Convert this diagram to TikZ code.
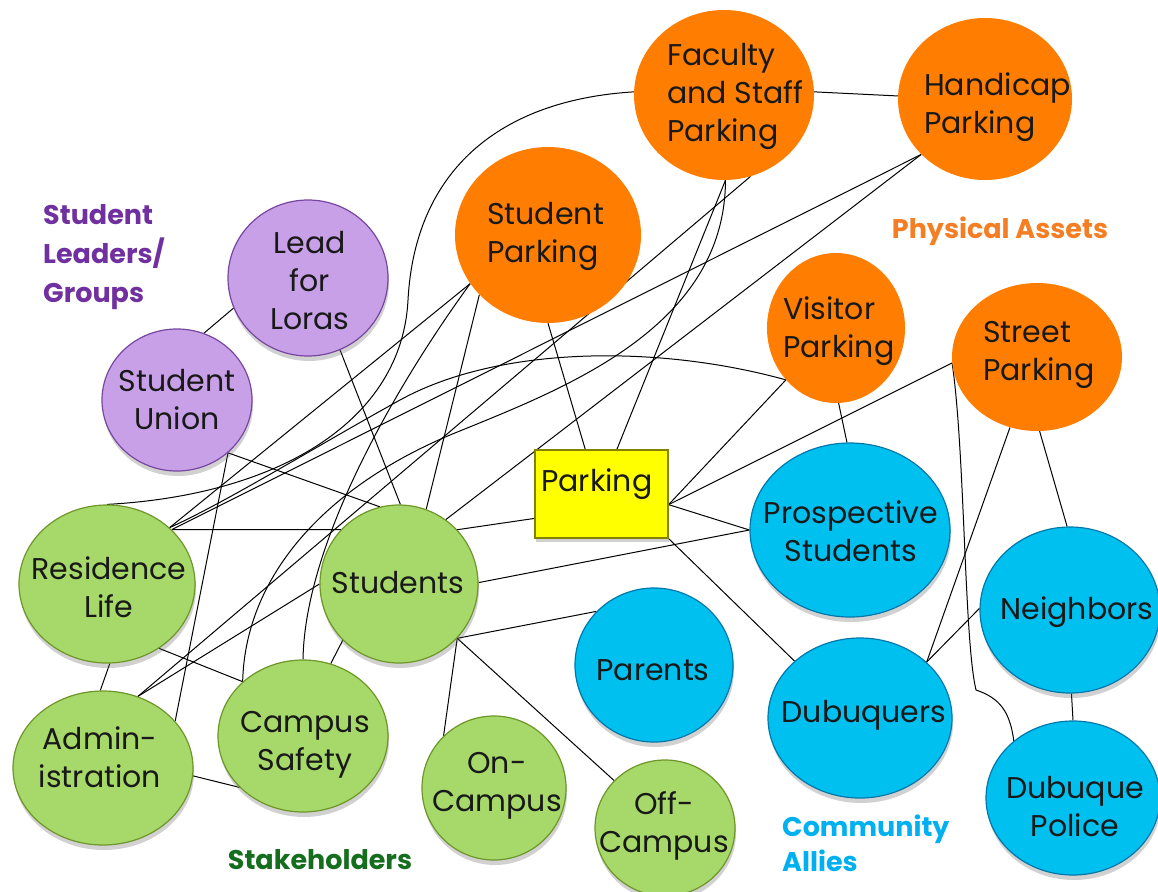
\documentclass[tikz,border=0pt]{standalone}
\usepackage{fontspec}
\setmainfont{Poppins}
\usetikzlibrary{shapes.geometric,backgrounds,shadows}
\definecolor{orng}{RGB}{255,125,0}
\definecolor{purp}{RGB}{200,160,232}
\definecolor{purpd}{RGB}{120,70,160}
\definecolor{grn}{RGB}{166,217,106}
\definecolor{grnd}{RGB}{110,150,40}
\definecolor{blu}{RGB}{0,192,240}
\definecolor{blud}{RGB}{0,120,170}
\definecolor{ylw}{RGB}{255,255,0}
\definecolor{ylwd}{RGB}{130,130,0}
\definecolor{lpurp}{RGB}{112,48,160}
\definecolor{lorng}{RGB}{245,125,35}
\definecolor{lgrn}{RGB}{20,110,30}
\definecolor{lblu}{RGB}{0,176,240}
\begin{document}
\begin{tikzpicture}[x=1pt,y=-1pt,
  bubble/.style={ellipse, inner sep=0pt, line width=1.2pt,
    drop shadow={shadow xshift=1pt, shadow yshift=-5pt, opacity=0.3, fill=black!60}},
  orangeb/.style={ellipse, inner sep=0pt, fill=orng},
  purpb/.style={bubble, fill=purp, draw=purpd},
  greenb/.style={bubble, fill=grn, draw=grnd},
  blueb/.style={bubble, fill=blu, draw=blud},
  txt/.style={font=\fontsize{30}{38}\selectfont, text=black!90, inner sep=0pt},
  lbl/.style={font=\fontsize{27}{39}\selectfont\bfseries, inner sep=0pt},
  conn/.style={line width=1pt, black}]
\useasboundingbox (0,0) rectangle (1158,891);
% physical assets
\node[orangeb, minimum width=180pt, minimum height=170pt] (F) at (724,95) {};
\node[txt, anchor=west, align=left] (Ft) at (667,96) {Faculty\\and Staff\\Parking};
\node[orangeb, minimum width=174pt, minimum height=162pt] (H) at (985,99) {};
\node[txt, anchor=west, align=left] (Ht) at (924,107) {Handicap\\Parking};
\node[orangeb, minimum width=186pt, minimum height=176pt] (SP) at (548,235) {};
\node[txt, anchor=west, align=left] (SPt) at (487,236) {Student\\Parking};
\node[orangeb, minimum width=138pt, minimum height=150pt] (V) at (836,328) {};
\node[txt, anchor=west, align=left] (Vt) at (783,331) {Visitor\\Parking};
\node[orangeb, minimum width=170pt, minimum height=148pt] (St) at (1037,357) {};
\node[txt, anchor=west, align=left] (Stt) at (983,355) {Street\\Parking};
% student groups
\node[purpb, minimum width=160pt, minimum height=156pt] (LL) at (308,278) {};
\node[txt, align=center] (LLt) at (310,281) {Lead\\for\\Loras};
\node[purpb, minimum width=150pt, minimum height=142pt] (SU) at (177,400) {};
\node[txt, align=center] (SUt) at (177,400) {Student\\Union};
% parking box
\node[rectangle, fill=ylw, draw=ylwd, line width=1.2pt, minimum width=133pt, minimum height=88pt,
  drop shadow={shadow xshift=1pt, shadow yshift=-4pt, opacity=0.3, fill=black!60}] (Pk) at (601.5,494) {};
\node[txt, anchor=west] (Pkt) at (541,484) {Parking};
% community
\node[blueb, minimum width=200pt, minimum height=174pt] (PS) at (850,530) {};
\node[txt, align=center] (PSt) at (851,531) {Prospective\\Students};
\node[blueb, minimum width=180pt, minimum height=166pt] (Nb) at (1070,610) {};
\node[txt] (Nbt) at (1077,612) {Neighbors};
\node[blueb, minimum width=184pt, minimum height=160pt] (Dq) at (860,718) {};
\node[txt] (Dqt) at (864,715) {Dubuquers};
\node[blueb, minimum width=174pt, minimum height=154pt] (DP) at (1073,798) {};
\node[txt, align=center] (DPt) at (1075,807) {Dubuque\\Police};
\node[blueb, minimum width=158pt, minimum height=154pt] (Pa) at (654,665) {};
\node[txt] (Pat) at (653,670) {Parents};
% stakeholders
\node[greenb, minimum width=176pt, minimum height=158pt] (RL) at (107,584) {};
\node[txt, align=center] (RLt) at (109,587) {Residence\\Life};
\node[greenb, minimum width=158pt, minimum height=158pt] (Stu) at (399,584) {};
\node[txt] (Stut) at (398,583) {Students};
\node[greenb, minimum width=180pt, minimum height=154pt] (Ad) at (103,768) {};
\node[txt, align=center] (Adt) at (100,757) {Admin-\\istration};
\node[greenb, minimum width=170pt, minimum height=152pt] (CS) at (303,736) {};
\node[txt, align=center] (CSt) at (305,745) {Campus\\Safety};
\node[greenb, minimum width=144pt, minimum height=144pt] (On) at (494,788) {};
\node[txt, align=center] (Ont) at (497,786) {On-\\Campus};
\node[greenb, minimum width=140pt, minimum height=136pt] (Off) at (665,828) {};
\node[txt, align=center] (Offt) at (664,826) {Off-\\Campus};
% group labels
\node[lbl, text=lpurp, anchor=west, align=left] (Lsl) at (43,257) {Student\\Leaders/\\Groups};
\node[lbl, text=lorng] (Lpa) at (1000,231) {Physical Assets};
\node[lbl, text=lgrn] (Lst) at (320,860) {Stakeholders};
\node[lbl, text=lblu, anchor=west, align=left, font=\fontsize{27}{35}\selectfont\bfseries] (Lca) at (782,843) {Community\\Allies};
% connectors
\begin{pgfonlayer}{background}
\draw[conn] (F.2) -- (H.178);
\draw[conn] (F.-89) -- (Pk.71);
\draw[conn] (F.-72) -- (Ad.64);
\draw[conn] (H.221) -- (RL.40);
\draw[conn] (H.221) -- (Stu.54);
\draw[conn] (SP.212) -- (RL.42);
\draw[conn] (SP.221) -- (Stu.70);
\draw[conn] (SP.-90) -- (Pk.110);
\draw[conn] (V.226) -- (Pk.-9);
\draw[conn] (V.-88) -- (PS.92);
\draw[conn] (St.184) -- (Pk.-9);
\draw[conn] (St.249) -- (Dq.40);
\draw[conn] (St.-88) -- (Nb.92);
\draw[conn] (Pk.-9) -- (PS.180);
\draw[conn] (Pk.south east) -- (Dq.139);
\draw[conn] (Nb.179) -- (Dq.40);
\draw[conn] (Nb.-89) -- (DP.90);
\draw[conn] (Stu.1) -- (PS.180);
\draw[conn] (Stu.43) -- (Pk.200);
\draw[conn] (Stu.-43) -- (Pa.137);
\draw[conn] (Stu.-43) -- (On.134);
\draw[conn] (Stu.-43) -- (Off.137);
\draw[conn] (Stu.225) -- (CS.69);
\draw[conn] (Stu.180) -- (Ad.64);
\draw[conn] (RL.40) -- (Stu.137);
\draw[conn] (RL.-51) -- (CS.138);
\draw[conn] (RL.-88) -- (Ad.92);
\draw[conn] (Ad.-5) -- (CS.219);
\draw[conn] (Ad.33) -- (SU.-46);
\draw[conn] (SU.-46) -- (Stu.104);
\draw[conn] (LL.-66) -- (Stu.89);
\draw[conn] (LL.202) -- (SU.68);
\draw[conn] (F.178) .. controls (500,100) and (415,170) .. (408,300) .. controls (402,420) and (280,495) .. (RL.90);
\draw[conn] (V.226) .. controls (660,345) and (500,345) .. (400,400) .. controls (310,450) and (230,500) .. (RL.42);
\draw[conn] (F.-89) .. controls (725,330) and (560,390) .. (450,435) .. controls (320,490) and (245,580) .. (CS.138);
\draw[conn] (SP.212) .. controls (400,380) and (305,540) .. (CS.90);
\draw[conn] (St.184) .. controls (965,450) and (964,640) .. (976,690) .. controls (1000,698) and (1010,712) .. (DP.136);
\end{pgfonlayer}
\end{tikzpicture}
\end{document}
